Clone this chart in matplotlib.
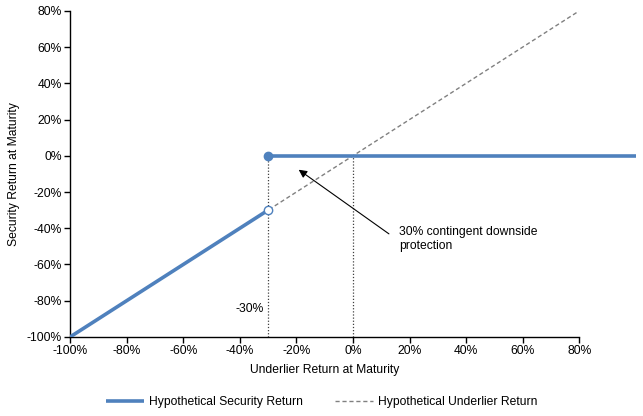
import numpy as np
import matplotlib
matplotlib.use("Agg")
import matplotlib.pyplot as plt

plt.rcParams['font.family'] = ['Liberation Sans', 'DejaVu Sans']

# Security payoff (underlier return -> security return), in %
security_x = [-100, -30]
security_y = [-100, -30]
protected_x = [-30, 100]
protected_y = [0, 0]

# Underlier return line
underlier_x = [-100, 80]
underlier_y = [-100, 80]

# Guide lines at barrier and at 0%
guide_x = [-30, 0]

x_ticks = [-100, -80, -60, -40, -20, 0, 20, 40, 60, 80]
y_ticks = [-100, -80, -60, -40, -20, 0, 20, 40, 60, 80]

blue = "#4F81BD"
fs = 8.7

fig = plt.figure(figsize=(6.43, 4.16), dpi=100)
ax = fig.add_axes([0.109, 0.19, 0.792, 0.784])

# dashed underlier line goes under the security line
ax.plot(underlier_x, underlier_y, color="#808080", linestyle=(0, (3, 2)),
        linewidth=1.0, label="Hypothetical Underlier Return", zorder=2)

for gx in guide_x:
    ax.plot([gx, gx], [-100, 0], color="#404040", linestyle=(0, (1, 1.5)),
            linewidth=0.9, zorder=1)

ax.plot(security_x, security_y, color=blue, linewidth=2.6, zorder=3,
        label="Hypothetical Security Return", solid_capstyle="butt")
ax.plot(protected_x, protected_y, color=blue, linewidth=2.6, zorder=3,
        clip_on=False, solid_capstyle="butt")
ax.plot([-30], [0], marker="o", markersize=6, color=blue, zorder=4)
ax.plot([-30], [-30], marker="o", markersize=6, markerfacecolor="white",
        markeredgecolor=blue, markeredgewidth=1.0, zorder=4)

# annotation: arrow and text placed separately
ax.annotate("", xy=(-19.2, -7.7), xytext=(12.7, -43.1),
            arrowprops=dict(arrowstyle="-|>", color="black", lw=0.8,
                            shrinkA=0, shrinkB=0, mutation_scale=12))
ax.text(16.2, -38.5, "30% contingent downside\nprotection", fontsize=fs,
        ha="left", va="top", linespacing=1.3)
ax.text(-31.5, -84.5, "-30%", fontsize=fs, ha="right", va="center")

ax.set_xlim(-100, 80)
ax.set_ylim(-100, 80)
ax.set_xticks(x_ticks)
ax.set_yticks(y_ticks)
ax.set_xticklabels([f"{t}%" for t in x_ticks], fontsize=fs)
ax.set_yticklabels([f"{t}%" for t in y_ticks], fontsize=fs)
ax.tick_params(direction="out", length=4, width=1, pad=2)

for side in ["top", "right"]:
    ax.spines[side].set_visible(False)
for side in ["left", "bottom"]:
    ax.spines[side].set_linewidth(1.0)

ax.set_xlabel("Underlier Return at Maturity", fontsize=fs, labelpad=5)
ax.set_ylabel("Security Return at Maturity", fontsize=fs, labelpad=5)

handles, labels = ax.get_legend_handles_labels()
fig.legend(handles[::-1], labels[::-1], loc="center", bbox_to_anchor=(0.5, 0.033),
           ncol=2, frameon=False, fontsize=fs, columnspacing=2.7,
           handlelength=3.15, handletextpad=0.4)

fig.savefig("out.png", dpi=100)
